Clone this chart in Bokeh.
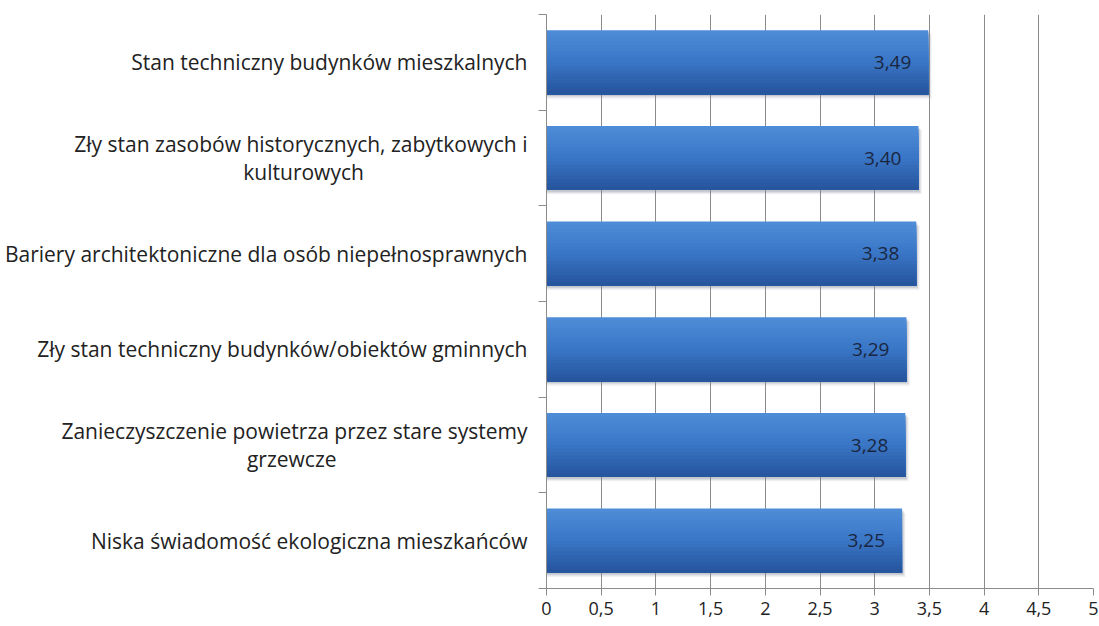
from bokeh.plotting import figure
from bokeh.models import FixedTicker, ColumnDataSource
from bokeh.embed import file_html
from bokeh.resources import INLINE
from bokeh.core.properties import value

categories = [
    "Stan techniczny budynków mieszkalnych",
    "Zły stan zasobów historycznych, zabytkowych i\nkulturowych",
    "Bariery architektoniczne dla osób niepełnosprawnych",
    "Zły stan techniczny budynków/obiektów gminnych",
    "Zanieczyszczenie powietrza przez stare systemy\ngrzewcze",
    "Niska świadomość ekologiczna mieszkańców",
]
values = [3.49, 3.40, 3.38, 3.29, 3.28, 3.25]
value_labels = ["3,49", "3,40", "3,38", "3,29", "3,28", "3,25"]
x_ticks = [0, 0.5, 1, 1.5, 2, 2.5, 3, 3.5, 4, 4.5, 5]
x_tick_labels = ["0", "0,5", "1", "1,5", "2", "2,5", "3", "3,5", "4", "4,5", "5"]

n = len(categories)
ypos = [n - 1 - i for i in range(n)]

FONT = "Open Sans"
TXT = "#222222"
GRID = "#8c8c8c"

# trailing no-break spaces centre the wrapped second line under the first
PAD = {1: 30, 4: 35}


def axis_label(i, c):
    parts = c.split("\n")
    if len(parts) == 1:
        return c
    return parts[0] + "\n" + parts[1] + "\u00a0" * PAD.get(i, 0)


p = figure(width=1098, height=618, output_backend="svg", toolbar_location=None,
           x_range=(0, 5), y_range=(-0.5, n - 0.5),
           min_border_left=546, min_border_right=5, min_border_top=14, min_border_bottom=30)
p.outline_line_color = None
p.background_fill_color = "white"

# grid
p.ygrid.grid_line_color = None
p.xgrid.ticker = FixedTicker(ticks=x_ticks)
p.xgrid.grid_line_color = GRID
p.xgrid.grid_line_width = 1

# x axis
p.xaxis.ticker = FixedTicker(ticks=x_ticks)
p.xaxis.major_label_overrides = {t: l for t, l in zip(x_ticks, x_tick_labels)}
p.xaxis.axis_line_color = GRID
p.xaxis.major_tick_line_color = GRID
p.xaxis.major_tick_out = 7
p.xaxis.major_tick_in = 0
p.xaxis.minor_tick_line_color = None
p.xaxis.major_label_text_font = FONT
p.xaxis.major_label_text_font_size = "18px"
p.xaxis.major_label_text_color = TXT
p.xaxis.major_label_standoff = 6

# y axis
bounds = [i - 0.5 for i in range(n + 1)]
p.yaxis.ticker = FixedTicker(ticks=ypos, minor_ticks=bounds)
p.yaxis.major_label_overrides = {y: axis_label(i, c) for i, (y, c) in enumerate(zip(ypos, categories))}
p.yaxis.axis_line_color = GRID
p.yaxis.major_tick_out = 0
p.yaxis.major_tick_in = 0
p.yaxis.minor_tick_out = 8
p.yaxis.minor_tick_in = 0
p.yaxis.minor_tick_line_color = GRID
p.yaxis.major_label_text_font = FONT
p.yaxis.major_label_text_font_size = "21px"
p.yaxis.major_label_text_line_height = 0.98
p.yaxis.major_label_text_color = TXT
p.yaxis.major_label_standoff = 11

bar_h = 0.67

# soft shadow
for dy, dx, a in [(0.045, 0.03, 0.12), (0.03, 0.02, 0.18), (0.018, 0.01, 0.25)]:
    p.hbar(y=[y - dy for y in ypos], left=0, right=[v + dx for v in values], height=bar_h,
           fill_color="#7d8796", fill_alpha=a, line_color=None)

# vertical gradient bar: overlapping strips from top to bottom
top_c = (78, 140, 215)
mid_c = (58, 118, 198)
bot_c = (38, 86, 158)
N = 18
for k in range(N):
    t = k / (N - 1)
    if t < 0.5:
        f = t / 0.5
        c = tuple(int(top_c[j] + (mid_c[j] - top_c[j]) * f) for j in range(3))
    else:
        f = (t - 0.5) / 0.5
        c = tuple(int(mid_c[j] + (bot_c[j] - mid_c[j]) * f) for j in range(3))
    col = "#%02x%02x%02x" % c
    top_frac = k / N
    hh = bar_h * (1 - top_frac)
    off = bar_h / 2 - top_frac * bar_h - hh / 2
    p.hbar(y=[y + off for y in ypos], left=0, right=values, height=hh,
           fill_color=col, line_color=None)

src = ColumnDataSource(dict(x=values, y=ypos, t=value_labels))
p.text(x="x", y="y", text="t", source=src, x_offset=-17, text_align="right",
       text_baseline="middle", text_font=value(FONT), text_font_size="19px",
       text_color="#1a2640")

open("out.html", "w").write(file_html(p, INLINE))
